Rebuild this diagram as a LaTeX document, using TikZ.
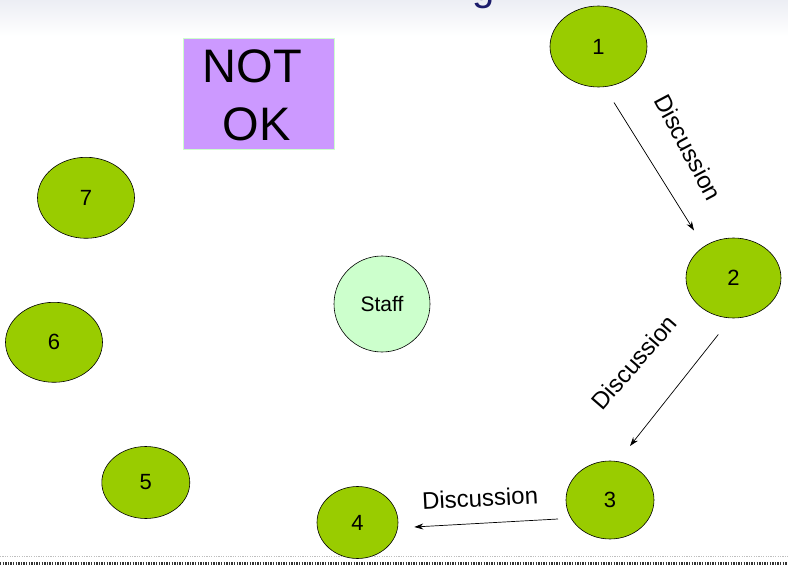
\documentclass[tikz,border=0pt]{standalone}
\usepackage{fontspec}
\setmainfont{Liberation Sans}
\usetikzlibrary{arrows.meta,shapes.geometric}
\definecolor{leaf}{HTML}{99CC00}
\definecolor{mint}{HTML}{CCFFCC}
\definecolor{lilac}{HTML}{CC99FF}
\definecolor{titleblue}{HTML}{1C1C6B}
\definecolor{topgray}{HTML}{ECEEF4}
\begin{document}
\begin{tikzpicture}[x=1pt,y=-1pt,
  member/.style={ellipse,draw=black,line width=0.6pt,fill=leaf,inner sep=0pt,
    font=\fontsize{22}{26}\selectfont},
  staffnode/.style={circle,draw=black,line width=0.6pt,fill=mint,inner sep=0pt,
    minimum size=96pt,font=\fontsize{21}{25}\selectfont},
  flow/.style={draw=black,line width=0.7pt,-{Stealth[length=9pt,width=6pt]}},
  flowlabel/.style={font=\fontsize{24}{28}\selectfont,inner sep=0pt}]
\useasboundingbox (0,0) rectangle (788,567);
\begin{scope}
\clip (0,0) rectangle (788,567);
% top gradient band
\shade[top color=topgray,bottom color=white,draw=none] (0,0) rectangle (788,36);
% clipped title glyph
\node[anchor=base,inner sep=0pt,text=titleblue,font=\fontsize{40}{44}\selectfont] (title) at (484,0.5) {g};
% bottom dotted rules
\draw[line width=1.2pt,draw=black!25,dash pattern=on 1.2pt off 1.2pt] (0,556.5) -- (788,556.5);
\draw[line width=2.2pt,draw=black!80,dash pattern=on 1.3pt off 1.3pt] (0,563.5) -- (788,563.5);
\end{scope}

% NOT OK box
\node[draw=mint,line width=0.6pt,fill=lilac,minimum width=151pt,minimum height=111pt,inner sep=0pt] (verdict) at (258.4,93.4) {};
\node[anchor=base,inner sep=0pt,font=\fontsize{47}{56}\selectfont] (verdictA) at (252.5,82.7) {NOT};
\node[anchor=base,inner sep=0pt,font=\fontsize{47}{56}\selectfont] (verdictB) at (256.5,141) {OK};

% members
\node[member,minimum width=97pt,minimum height=81pt] (n1) at (598.5,46.5) {1};
\node[member,minimum width=95pt,minimum height=80pt] (n2) at (733.5,278) {2};
\node[member,minimum width=88pt,minimum height=78pt] (n3) at (610,500) {3};
\node[member,minimum width=81pt,minimum height=72pt] (n4) at (357.5,522.5) {4};
\node[member,minimum width=88pt,minimum height=72pt] (n5) at (145.8,482.5) {5};
\node[member,minimum width=97pt,minimum height=80pt] (n6) at (54,342.3) {6};
\node[member,minimum width=97pt,minimum height=81pt] (n7) at (86,197.8) {7};

\node[staffnode] (staff) at (382,304) {Staff};

% connector end points
\coordinate (a1s) at (614,102.5);
\coordinate (a1e) at (694,230.5);
\coordinate (a2s) at (718.3,334.5);
\coordinate (a2e) at (630,446);
\coordinate (a3s) at (558,519);
\coordinate (a3e) at (414.3,527);

\draw[flow] (a1s) -- (a1e);
\draw[flow] (a2s) -- (a2e);
\draw[flow] (a3s) -- (a3e);

\node[flowlabel,rotate=-62] (l1) at (688.5,147.5) {Discussion};
\node[flowlabel,rotate=49] (l2) at (634,362.5) {Discussion};
\node[flowlabel,rotate=3] (l3) at (480,498) {Discussion};
\end{tikzpicture}
\end{document}
